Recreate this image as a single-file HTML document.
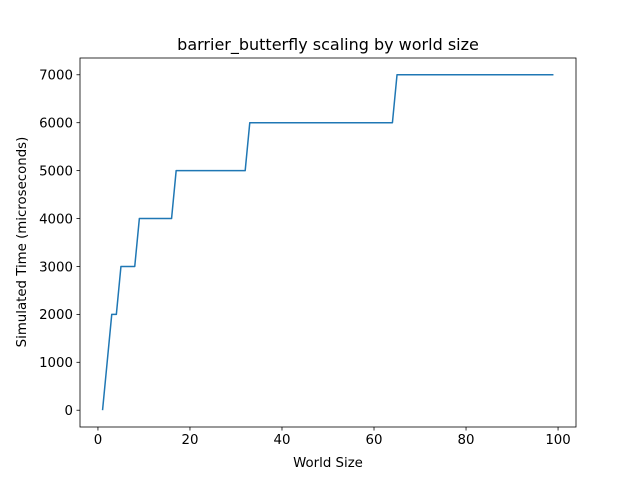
<!DOCTYPE html>
<html><head><meta charset="utf-8"><style>
body{margin:0;background:#fff}
svg text{font-family:"DejaVu Sans","Liberation Sans",sans-serif;fill:#000}
</style></head><body>
<svg id="chart" width="640" height="480" viewBox="0 0 640 480" xmlns="http://www.w3.org/2000/svg">
<rect width="640" height="480" fill="#fff"/>
<text x="328" y="50" font-size="16" text-anchor="middle">barrier_butterfly scaling by world size</text>
<text x="328" y="467" font-size="13.33" text-anchor="middle">World Size</text>
<text transform="translate(26,242) rotate(-90)" font-size="13.33" text-anchor="middle">Simulated Time (microseconds)</text>
<g id="ticks"></g>
<path id="series" fill="none" stroke="#1f77b4" stroke-width="1.5" stroke-linejoin="round"/>
<rect x="80" y="58" width="496" height="369" fill="none" stroke="#000" stroke-width="0.8"/>
</svg>
<script>
const worldSizes = [];
for (let i = 1; i <= 99; i++) worldSizes.push(i);
const simTimes = [0,1000,2000,2000,3000,3000,3000,3000,
4000,4000,4000,4000,4000,4000,4000,4000,
5000,5000,5000,5000,5000,5000,5000,5000,5000,5000,5000,5000,5000,5000,5000,5000,
6000,6000,6000,6000,6000,6000,6000,6000,6000,6000,6000,6000,6000,6000,6000,6000,
6000,6000,6000,6000,6000,6000,6000,6000,6000,6000,6000,6000,6000,6000,6000,6000,
7000,7000,7000,7000,7000,7000,7000,7000,7000,7000,7000,7000,7000,7000,7000,7000,
7000,7000,7000,7000,7000,7000,7000,7000,7000,7000,7000,7000,7000,7000,7000,7000,7000,7000,7000];
const xTicks = [0,20,40,60,80,100];
const yTicks = [0,1000,2000,3000,4000,5000,6000,7000];

const L=80,R=576,T=58,B=427;
const xmin=-3.9,xmax=103.9,ymin=-350,ymax=7350;
const xs=v=>L+(v-xmin)/(xmax-xmin)*(R-L);
const ys=v=>B-(v-ymin)/(ymax-ymin)*(B-T);
const NS="http://www.w3.org/2000/svg";
const g=document.getElementById('ticks');
function mk(tag,attrs){const e=document.createElementNS(NS,tag);for(const k in attrs)e.setAttribute(k,attrs[k]);return e;}
xTicks.forEach(t=>{
  const x=xs(t);
  const l=mk('line',{x1:x,x2:x,y1:B,y2:B+3.5,stroke:'#000','stroke-width':0.8});
  
  
  g.appendChild(l);
  const tx=mk('text',{x:x,y:B+17,'font-size':13.33,'text-anchor':'middle'});
  tx.textContent=t;
  
  
  g.appendChild(tx);
});
yTicks.forEach(t=>{
  const y=ys(t);
  const l=mk('line',{x1:L-3.5,x2:L,y1:y,y2:y,stroke:'#000','stroke-width':0.8});
  
  
  g.appendChild(l);
  const tx=mk('text',{x:L-7,y:y+4.8,'font-size':13.33,'text-anchor':'end'});
  tx.textContent=t;
  
  
  g.appendChild(tx);
});
document.getElementById('series').setAttribute('d',
  worldSizes.map((w,i)=>(i?'L':'M')+xs(w).toFixed(2)+','+ys(simTimes[i]).toFixed(2)).join(' '));
</script>
</body></html>
